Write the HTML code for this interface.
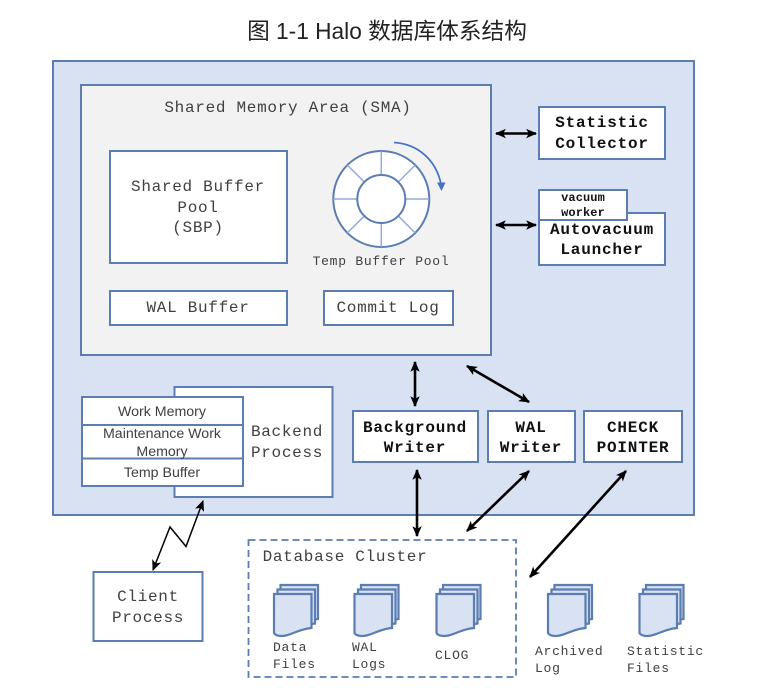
<!DOCTYPE html>
<html><head><meta charset="utf-8"><style>
html,body{margin:0;padding:0;background:#fff;width:774px;height:697px;overflow:hidden}
svg{display:block}
.m{font-family:"Liberation Mono",monospace;fill:#404040;text-anchor:middle}
.l{font-size:16px;letter-spacing:.7px}
.b{font-family:"Liberation Mono",monospace;font-weight:bold;fill:#111;text-anchor:middle;font-size:16px;letter-spacing:.8px}
.s{font-size:13px;letter-spacing:.75px}
.a{font-family:"Liberation Sans",sans-serif;font-size:14.200px;fill:#404040;text-anchor:middle}
.box{fill:#fff;stroke:#5b7db1;stroke-width:2}
.ar{stroke:#000;stroke-width:2.600;fill:none;marker-start:url(#h);marker-end:url(#h)}
</style></head><body>
<svg width="774" height="697" viewBox="0 0 774 697" xmlns="http://www.w3.org/2000/svg">
<defs>
<marker id="h" viewBox="0 0 10 10" refX="9" refY="5" markerWidth="11" markerHeight="9.500" markerUnits="userSpaceOnUse" orient="auto-start-reverse" preserveAspectRatio="none"><path d="M0 0L10 5L0 10L2.500 5Z" fill="#000"/></marker>
<g id="p"><path d="M0 0H37.500V34C24 35 17 42 8 42C4 42 1 41 0 39Z" fill="#d9e2f3" stroke="#5b7db1" stroke-width="2.200"/></g>
<g id="d"><use href="#p" x="6.500" y="-9"/><use href="#p" x="3.500" y="-4.500"/><use href="#p" x="0" y="0"/></g>
</defs>
<text x="387" y="39" style="font-family:'Liberation Sans','Noto Sans CJK SC',sans-serif;font-size:22.700px;fill:#222;text-anchor:middle">图 1-1 Halo 数据库体系结构</text>
<rect x="53" y="61" width="641" height="454" fill="#d9e2f3" stroke="#5b7db1" stroke-width="2"/>
<rect x="81" y="85" width="410" height="270" fill="#f2f2f2" stroke="#5b7db1" stroke-width="2"/>
<text class="m l" x="288" y="112">Shared Memory Area (SMA)</text>
<rect class="box" x="110" y="151" width="177" height="112"/>
<text class="m l" x="198" y="191">Shared Buffer</text>
<text class="m l" x="198" y="212">Pool</text>
<text class="m l" x="198" y="232">(SBP)</text>
<rect class="box" x="110" y="291" width="177" height="34"/>
<text class="m l" x="198" y="312">WAL Buffer</text>
<rect class="box" x="324" y="291" width="129" height="34"/>
<text class="m l" x="388" y="312">Commit Log</text>
<circle cx="381.300" cy="199" r="48" fill="#fff" stroke="#5b7db1" stroke-width="2"/>
<g stroke="#8faadc" stroke-width="1.500">
<path d="M381.300 151V175M381.300 223V247M333.300 199H357.300M405.300 199H429.300"/>
<path d="M347.400 165.100L364.300 182M398.300 216L415.200 232.900M347.400 232.900L364.300 216M398.300 182L415.200 165.100"/>
</g>
<circle cx="381.300" cy="199" r="24" fill="#fff" stroke="#5b7db1" stroke-width="2"/>
<path d="M394 142.500C418 144 436 160 441 184" fill="none" stroke="#4472c4" stroke-width="1.700"/>
<path d="M437 182.500H445.500L441.500 191Z" fill="#4472c4"/>
<text class="m s" x="381" y="265">Temp Buffer Pool</text>
<rect class="box" x="539" y="107" width="126" height="52"/>
<text class="b" x="602" y="127">Statistic</text>
<text class="b" x="602" y="148">Collector</text>
<rect class="box" x="539" y="213" width="126" height="52"/>
<text class="b" x="602" y="234">Autovacuum</text>
<text class="b" x="602" y="254">Launcher</text>
<rect class="box" x="539" y="190" width="88" height="30"/>
<text class="b" x="583" y="201" style="font-size:12px;letter-spacing:.1px">vacuum</text>
<text class="b" x="583" y="216" style="font-size:12px;letter-spacing:.1px">worker</text>
<rect class="box" x="174.500" y="387" width="158" height="110"/>
<text class="m l" x="287" y="436">Backend</text>
<text class="m l" x="287" y="457">Process</text>
<rect class="box" x="82" y="397" width="161" height="89"/>
<path d="M82 425H243M82 458.500H243" stroke="#5b7db1" stroke-width="2"/>
<text class="a" x="162" y="416">Work Memory</text>
<text class="a" x="162" y="438">Maintenance Work</text>
<text class="a" x="162" y="456">Memory</text>
<text class="a" x="162" y="477">Temp Buffer</text>
<rect class="box" x="353" y="411" width="125" height="51"/>
<text class="b" x="415" y="432">Background</text>
<text class="b" x="415" y="452">Writer</text>
<rect class="box" x="488" y="411" width="87" height="51"/>
<text class="b" x="531" y="432">WAL</text>
<text class="b" x="531" y="452">Writer</text>
<rect class="box" x="584" y="411" width="98" height="51"/>
<text class="b" x="633" y="432">CHECK</text>
<text class="b" x="633" y="452">POINTER</text>
<rect class="box" x="93.500" y="572" width="109" height="69"/>
<text class="m l" x="148" y="601">Client</text>
<text class="m l" x="148" y="622">Process</text>
<rect x="248.500" y="540" width="267.500" height="137" fill="none" stroke="#5b7db1" stroke-width="1.800" stroke-dasharray="7 4"/>
<text class="m l" x="345" y="561">Database Cluster</text>
<use href="#d" x="274" y="594"/>
<use href="#d" x="354.500" y="594"/>
<use href="#d" x="436.500" y="594"/>
<use href="#d" x="548" y="594"/>
<use href="#d" x="639.500" y="594"/>
<text class="m s" x="273" y="651" style="text-anchor:start">Data</text>
<text class="m s" x="273" y="668" style="text-anchor:start">Files</text>
<text class="m s" x="352" y="651" style="text-anchor:start">WAL</text>
<text class="m s" x="352" y="668" style="text-anchor:start">Logs</text>
<text class="m s" x="435" y="659" style="text-anchor:start">CLOG</text>
<text class="m s" x="535" y="655" style="text-anchor:start">Archived</text>
<text class="m s" x="535" y="672" style="text-anchor:start">Log</text>
<text class="m s" x="627" y="655" style="text-anchor:start">Statistic</text>
<text class="m s" x="627" y="672" style="text-anchor:start">Files</text>
<path class="ar" d="M496 133.500H536"/>
<path class="ar" d="M496 225H536"/>
<path class="ar" d="M415 362V406"/>
<path class="ar" d="M467 366L529 402"/>
<path class="ar" d="M417 470V536"/>
<path class="ar" d="M529 471L467 531"/>
<path class="ar" d="M626 471L530 577"/>
<path d="M203 501L186 546.500L170 527L153 570" fill="none" stroke="#000" stroke-width="1.500" style="marker-start:url(#h);marker-end:url(#h)"/>
</svg>
</body></html>
